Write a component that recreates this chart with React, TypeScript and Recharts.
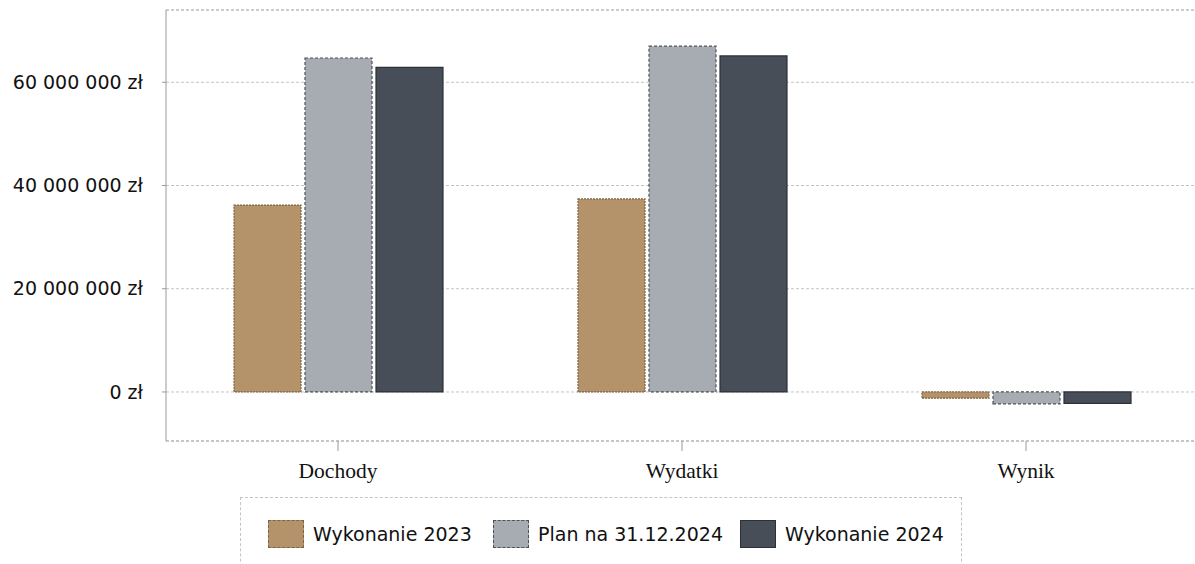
import { BarChart, Bar, XAxis, YAxis, CartesianGrid, ReferenceLine } from 'recharts'

const categories = ['Dochody', 'Wydatki', 'Wynik']
const wykonanie2023 = [36200000, 37400000, -1200000]
const plan2024 = [64700000, 67000000, -2300000]
const wykonanie2024 = [62900000, 65100000, -2200000]

const seriesNames = ['Wykonanie 2023', 'Plan na 31.12.2024', 'Wykonanie 2024']
const yTicks = [0, 20000000, 40000000, 60000000]
const yMinorTicks = [-6666667, 0, 6666667, 13333333, 20000000, 26666667, 33333333, 40000000, 46666667, 53333333, 60000000, 66666667]
const xMinorTicks = [0.1, 0.3, 0.7, 0.9, 1.1, 1.3, 1.7, 1.9, 2.1, 2.3, 2.7, 2.9]
const yDomain: [number, number] = [-9500000, 74000000]

const colors = ['#b5936a', '#a6acb1', '#484e58']
const strokes = ['#7d6446', '#4d5258', '#2c3138']
const dashes = ['2 1', '3 2', undefined]

const data = categories.map((name, i) => ({
    name,
    w2023: wykonanie2023[i],
    plan: plan2024[i],
    w2024: wykonanie2024[i],
}))

const keys = ['w2023', 'plan', 'w2024']

const fmtY = (v: number) => {
    const s = String(Math.round(v)).replace(/\B(?=(\d{3})+(?!\d))/g, ' ')
    return `${s} zł`
}

const EmptyTick = () => <g />

export default function App() {
    return (
        <div style={{ position: 'absolute', left: 0, top: 0, width: 1195, height: 564, overflow: 'hidden', background: '#fff' }}>
            <BarChart
                width={1210}
                height={564}
                data={data}
                margin={{ top: 10, right: 12, left: 0, bottom: 83 }}
                barCategoryGap='19.5%'
                barGap={4}
            >
                <CartesianGrid vertical={false} stroke='#c4c4c4' strokeDasharray='3 2' />
                <ReferenceLine y={yDomain[1]} stroke='#b8b8b8' strokeDasharray='3 2' />
                <XAxis
                    dataKey='name'
                    height={40}
                    axisLine={{ stroke: '#aaa', strokeDasharray: '3 2' }}
                    tickLine={{ stroke: '#999' }}
                    tickSize={10}
                    tickMargin={12}
                    tick={{ fill: '#111', fontFamily: 'Liberation Serif', fontSize: 21.5 }}
                />
                <XAxis
                    xAxisId='minor'
                    type='number'
                    domain={[0, 3]}
                    ticks={xMinorTicks}
                    height={0}
                    axisLine={false}
                    tickLine={{ stroke: '#aaa' }}
                    tickSize={4}
                    tick={EmptyTick}
                    allowDataOverflow
                />
                <YAxis
                    width={166}
                    domain={yDomain}
                    ticks={yTicks}
                    allowDataOverflow
                    tickFormatter={fmtY}
                    axisLine={{ stroke: '#999' }}
                    tickLine={{ stroke: '#999' }}
                    tickSize={4}
                    tickMargin={19}
                    tick={{ fill: '#111', fontFamily: 'DejaVu Sans', fontSize: 19 }}
                />
                <YAxis
                    yAxisId='minor'
                    width={0}
                    domain={yDomain}
                    ticks={yMinorTicks}
                    allowDataOverflow
                    axisLine={false}
                    tickLine={{ stroke: '#aaa' }}
                    tickSize={3}
                    tick={EmptyTick}
                />
                {keys.map((k, i) => (
                    <Bar
                        key={k}
                        dataKey={k}
                        name={seriesNames[i]}
                        fill={colors[i]}
                        stroke={strokes[i]}
                        strokeWidth={1.2}
                        strokeDasharray={dashes[i]}
                        barSize={67}
                        isAnimationActive={false}
                    />
                ))}
            </BarChart>
            <div
                style={{
                    position: 'absolute',
                    left: 240,
                    top: 497,
                    width: 722,
                    height: 80,
                    border: '1px dashed #c4c4c4',
                    boxSizing: 'border-box',
                }}
            >
                {seriesNames.map((n, i) => {
                    const lefts = [27, 252, 499]
                    return (
                        <div key={n} style={{ position: 'absolute', left: lefts[i], top: 22, display: 'flex', alignItems: 'center' }}>
                            <span
                                style={{
                                    display: 'inline-block',
                                    width: 36,
                                    height: 28,
                                    background: colors[i],
                                    border: `1.5px ${dashes[i] ? 'dashed' : 'solid'} ${strokes[i]}`,
                                    boxSizing: 'border-box',
                                }}
                            />
                            <span style={{ marginLeft: 9, fontFamily: 'DejaVu Sans', fontSize: 19, color: '#111' }}>{n}</span>
                        </div>
                    )
                })}
            </div>
        </div>
    )
}
